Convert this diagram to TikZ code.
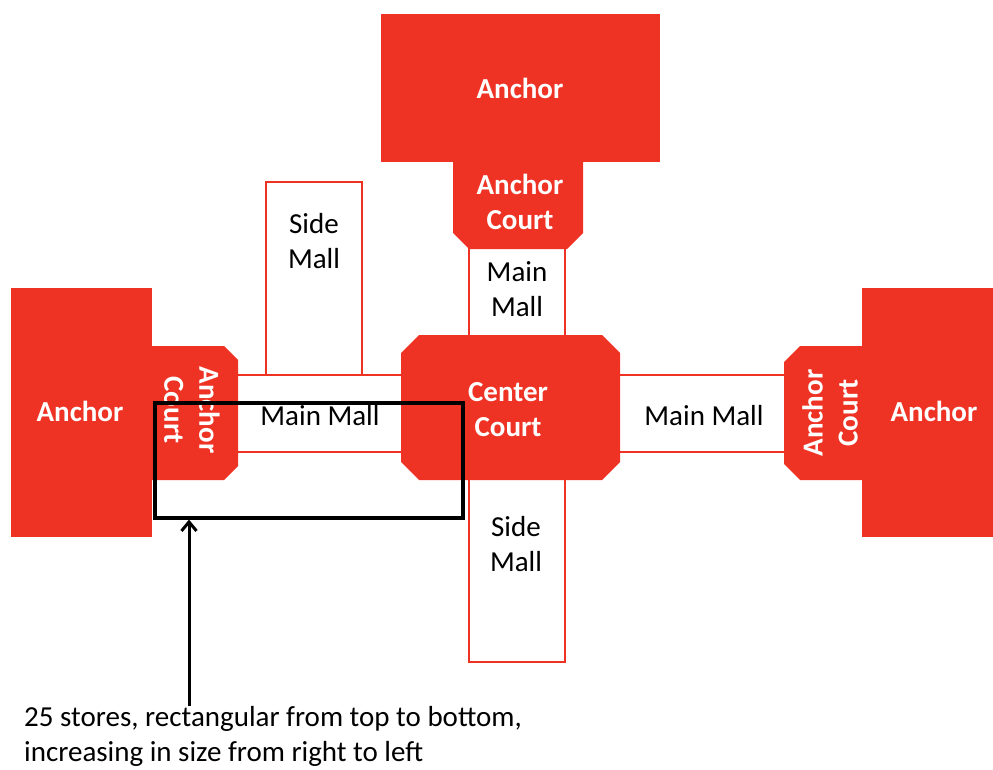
\documentclass[tikz,border=0pt]{standalone}
\usepackage{fontspec}
\setmainfont{Carlito}
\usetikzlibrary{arrows.meta}
\definecolor{mallred}{RGB}{238,50,36}
\begin{document}
\begin{tikzpicture}[x=1pt,y=-1pt,
  redblock/.style={fill=mallred, draw=none},
  mallbox/.style={draw=mallred, line width=1.3pt, fill=white},
  wlabel/.style={text=white, font=\fontsize{29}{35}\selectfont\bfseries, align=center, inner sep=0pt},
  blabel/.style={text=black, font=\fontsize{29}{35}\selectfont, align=center, inner sep=0pt},
  storebox/.style={draw=black, line width=3.2pt, inner sep=0pt},
  pointer/.style={draw=black, line width=3pt, -{Straight Barb[length=9pt,width=15pt]}}
]
\useasboundingbox (0,0) rectangle (993,770);

% mall corridors
\draw[mallbox] (266,182) rectangle (362,375);
\draw[mallbox] (469,470) rectangle (565,662);
\draw[mallbox] (469,240) rectangle (565,345);
\draw[mallbox] (230,375) rectangle (410,452);
\draw[mallbox] (610,375) rectangle (792,452);

% red blocks
\fill[redblock] (381,14) rectangle (660,162);
\fill[redblock] (453,160) -- (583,160) -- (583,233) -- (567,249) -- (469,249) -- (453,233) -- cycle;
\fill[redblock] (419,335) -- (602,335) -- (620,353) -- (620,462) -- (602,480) -- (419,480) -- (401,462) -- (401,353) -- cycle;
\fill[redblock] (11,288) rectangle (152,537);
\fill[redblock] (150,346) -- (224,346) -- (238,360) -- (238,466) -- (224,480) -- (150,480) -- cycle;
\fill[redblock] (864,346) -- (800,346) -- (784,362) -- (784,464) -- (800,480) -- (864,480) -- cycle;
\fill[redblock] (862,288) rectangle (993,537);

% labels
\node[wlabel] (topanchor) at (520,88) {Anchor};
\node[wlabel] (topcourt) at (520,202) {Anchor\\Court};
\node[blabel] (topmain) at (517,289) {Main\\Mall};
\node[wlabel] (center) at (508,410) {Center\\Court};
\node[blabel] (sidetop) at (314,241) {Side\\Mall};
\node[blabel] (sidebot) at (516,544) {Side\\Mall};
\node[blabel] (leftmain) at (320,416) {Main Mall};
\node[blabel] (rightmain) at (704,416) {Main Mall};
\node[wlabel] (leftanchor) at (80,411) {Anchor};
\node[wlabel] (rightanchor) at (934,411) {Anchor};
\node[wlabel, rotate=-90] (leftcourt) at (192,410) {Anchor\\Court};
\node[wlabel, rotate=90] (rightcourt) at (830,413) {Anchor\\Court};

% store box and pointer
\node[storebox, minimum width=308pt, minimum height=115pt] (stores) at (309,460.5) {};
\coordinate (tail) at (189,706);
\draw[pointer] (tail) -- (tail |- stores.south);
\node[blabel, align=left, anchor=north west] (caption) at (24,706) {25 stores, rectangular from top to bottom,\\increasing in size from right to left};
\end{tikzpicture}
\end{document}
